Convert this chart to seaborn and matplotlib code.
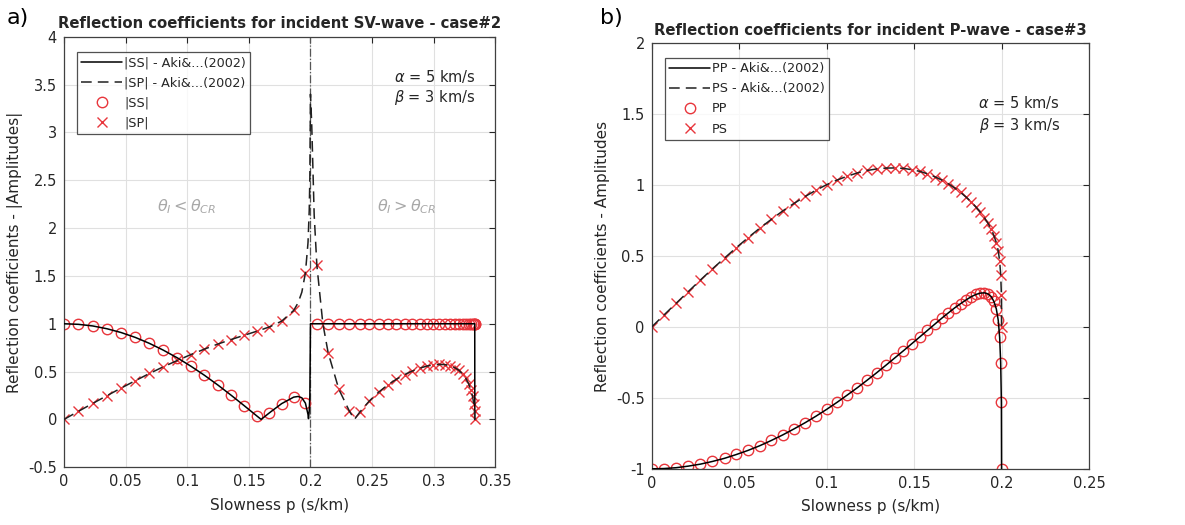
import seaborn as sns
import matplotlib
matplotlib.use("Agg")
import matplotlib.pyplot as plt
import matplotlib.ticker as ticker
import pandas as pd

# ---- panel a) incident SV-wave, slowness p (s/km) at 2 deg steps ----
p_sv = [0.0000, 0.0116, 0.0233, 0.0348, 0.0464, 0.0579, 0.0693, 0.0806, 0.0919, 0.1030,
        0.1140, 0.1249, 0.1356, 0.1461, 0.1565, 0.1667, 0.1766, 0.1864, 0.1959, 0.2052,
        0.2143, 0.2230, 0.2316, 0.2398, 0.2477, 0.2553, 0.2627, 0.2697, 0.2763, 0.2827,
        0.2887, 0.2943, 0.2996, 0.3045, 0.3091, 0.3132, 0.3170, 0.3204, 0.3234, 0.3260,
        0.3283, 0.3301, 0.3315, 0.3325, 0.3331, 0.3333]
ss_sv = [1.000, 0.994, 0.977, 0.948, 0.908, 0.857, 0.795, 0.724, 0.644, 0.556,
         0.461, 0.359, 0.253, 0.145, 0.036, 0.069, 0.165, 0.233, 0.170, 1.000,
         1.000, 1.000, 1.000, 1.000, 1.000, 1.000, 1.000, 1.000, 1.000, 1.000,
         1.000, 1.000, 1.000, 1.000, 1.000, 1.000, 1.000, 1.000, 1.000, 1.000,
         1.000, 1.000, 1.000, 1.000, 1.000, 1.000]
sp_sv = [0.000, 0.084, 0.167, 0.248, 0.328, 0.405, 0.480, 0.550, 0.616, 0.678,
         0.735, 0.788, 0.835, 0.879, 0.922, 0.967, 1.027, 1.139, 1.532, 1.610,
         0.699, 0.316, 0.086, 0.073, 0.192, 0.285, 0.360, 0.420, 0.468, 0.506,
         0.536, 0.557, 0.570, 0.575, 0.573, 0.561, 0.542, 0.514, 0.476, 0.430,
         0.375, 0.312, 0.241, 0.165, 0.083, 0.000]
# extra points of the Aki & Richards curves around the critical slowness
ss_line_p_extra = [0.1600, 0.1900, 0.1930, 0.1980, 0.1984, 0.1990, 0.1995, 0.2000, 0.33335]
ss_line_extra = [0.000, 0.240, 0.226, 0.052, 0.008, 0.092, 0.246, 1.000, 0.000]
sp_line_p_extra = [0.1600, 0.1900, 0.1930, 0.1980, 0.1990, 0.1995, 0.2000, 0.2010, 0.2030, 0.2100, 0.2357]
sp_line_extra = [0.937, 1.220, 1.330, 1.847, 2.186, 2.528, 3.400, 3.090, 2.140, 1.006, 0.000]
p_critical = 0.2

# ---- panel b) incident P-wave ----
p_p = [0.0000, 0.0070, 0.0140, 0.0209, 0.0278, 0.0347, 0.0416, 0.0484, 0.0551, 0.0618,
       0.0684, 0.0749, 0.0813, 0.0877, 0.0939, 0.1000, 0.1060, 0.1118, 0.1176, 0.1231,
       0.1286, 0.1338, 0.1389, 0.1439, 0.1486, 0.1532, 0.1576, 0.1618, 0.1658, 0.1696,
       0.1732, 0.1766, 0.1798, 0.1827, 0.1854, 0.1879, 0.1902, 0.1923, 0.1941, 0.1956,
       0.1970, 0.1981, 0.1989, 0.1995, 0.1999, 0.2000]
pp = [-1.000, -0.998, -0.992, -0.981, -0.967, -0.948, -0.926, -0.899, -0.870, -0.837,
      -0.800, -0.761, -0.719, -0.675, -0.629, -0.581, -0.531, -0.480, -0.428, -0.376,
      -0.323, -0.271, -0.219, -0.168, -0.119, -0.071, -0.025, 0.019, 0.061, 0.099,
      0.134, 0.164, 0.191, 0.213, 0.229, 0.238, 0.240, 0.232, 0.213, 0.180,
      0.127, 0.047, -0.072, -0.252, -0.532, -1.000]
ps = [0.000, 0.084, 0.167, 0.249, 0.330, 0.409, 0.485, 0.559, 0.629, 0.696,
      0.758, 0.817, 0.870, 0.919, 0.963, 1.002, 1.035, 1.062, 1.085, 1.102,
      1.113, 1.119, 1.120, 1.117, 1.108, 1.096, 1.079, 1.058, 1.035, 1.008,
      0.979, 0.947, 0.914, 0.880, 0.844, 0.807, 0.769, 0.729, 0.688, 0.644,
      0.594, 0.536, 0.465, 0.369, 0.228, 0.000]

RED = '#e8363c'
TXT = '#262626'

sns.set_style('white')
plt.rcParams['font.family'] = ['DejaVu Sans']
plt.rcParams['axes.unicode_minus'] = False


def curve(px, py, px_extra, py_extra):
    df = pd.DataFrame({'p': list(px) + list(px_extra), 'r': list(py) + list(py_extra)})
    return df.sort_values('p', kind='stable')


def style_axis(ax, xlim, ylim, xstep, ystep, title, ylabel, title_size):
    ax.set_xlim(xlim)
    ax.set_ylim(ylim)
    ax.xaxis.set_major_locator(ticker.MultipleLocator(xstep))
    ax.yaxis.set_major_locator(ticker.MultipleLocator(ystep))
    fmt = ticker.FuncFormatter(lambda v, pos: '%g' % round(v, 4))
    ax.xaxis.set_major_formatter(fmt)
    ax.yaxis.set_major_formatter(fmt)
    ax.grid(True, color='#e0e0e0', linewidth = 0.8)
    ax.set_axisbelow(True)
    ax.tick_params(axis = 'both', direction = 'in', top = True, right = True,
                   length = 4, width = 0.8, labelsize = 10.5, colors = TXT, pad = 5)
    for sp in ax.spines.values():
        sp.set_color('#404040')
        sp.set_linewidth(0.9)
    ax.set_title(title, fontsize = title_size, fontweight = 'bold', color = TXT, pad = 6)
    ax.set_xlabel('Slowness p (s/km)', fontsize = 11, color = TXT, labelpad = 6)
    ax.set_ylabel(ylabel, fontsize = 11, color = TXT, labelpad = 4)


def markers(ax, x, y, mk, label):
    if mk == 'o':
        sns.lineplot(x = x, y = y, ax = ax, sort = False, estimator = None, linestyle = 'none',
                     marker = 'o', markersize = 7.5, markerfacecolor = 'none',
                     markeredgecolor = RED, markeredgewidth = 1.0, color = RED,
                     label = label, zorder = 2)
    else:
        sns.lineplot(x = x, y = y, ax = ax, sort = False, estimator = None, linestyle = 'none',
                     marker = 'x', markersize = 6.5, markeredgecolor = RED,
                     markeredgewidth = 1.0, color = RED, label = label, zorder = 2)


def legend(ax, x0):
    leg = ax.legend(loc = 'upper left', bbox_to_anchor = (x0, 0.965), fontsize = 9.2,
                    frameon = True, fancybox = False, edgecolor = '#262626', borderpad = 0.35,
                    labelspacing = 0.55, handlelength = 3.2, handletextpad = 0.15,
                    borderaxespad = 0)
    leg.get_frame().set_linewidth(0.9)


fig = plt.figure(figsize = (11.85, 5.25), dpi = 100)
ax1 = fig.add_axes([0.054, 0.110, 0.364, 0.820])
ax2 = fig.add_axes([0.550, 0.107, 0.369, 0.811])

# ---------------- a) ----------------
ss_line = curve(p_sv, ss_sv, ss_line_p_extra, ss_line_extra)
sp_line = curve(p_sv, sp_sv, sp_line_p_extra, sp_line_extra)
sns.lineplot(data = ss_line, x = 'p', y = 'r', ax = ax1, sort = False, estimator = None,
             color = 'black', linewidth = 1.1, label = '|SS| - Aki&...(2002)', zorder = 3)
sns.lineplot(data = sp_line, x = 'p', y = 'r', ax = ax1, sort = False, estimator = None,
             color = '#202020', linewidth = 1.1, linestyle = (0, (7, 4)),
             label = '|SP| - Aki&...(2002)', zorder = 3)
markers(ax1, p_sv, ss_sv, 'o', '|SS|')
markers(ax1, p_sv, sp_sv, 'x', '|SP|')
ax1.axvline(p_critical, color = '#555555', linestyle = '-.', linewidth = 0.9, zorder = 1)
style_axis(ax1, (0, 0.35), (-0.5, 4), 0.05, 0.5,
           'Reflection coefficients for incident SV-wave - case#2',
           'Reflection coefficients - |Amplitudes|', 10.7)
ax1.text(0.1, 2.22, r'$\theta_I < \theta_{CR}$', color = '#a8a8a8', fontsize = 11.5,
         ha = 'center', va = 'center')
ax1.text(0.278, 2.22, r'$\theta_I > \theta_{CR}$', color = '#a8a8a8', fontsize = 11.5,
         ha = 'center', va = 'center')
ax1.text(0.334, 3.58, r'$\alpha$ = 5 km/s', color = TXT, fontsize = 10.5, ha = 'right', va = 'center')
ax1.text(0.334, 3.36, r'$\beta$ = 3 km/s', color = TXT, fontsize = 10.5, ha = 'right', va = 'center')
legend(ax1, 0.03)

# ---------------- b) ----------------
sns.lineplot(x = p_p, y = pp, ax = ax2, sort = False, estimator = None,
             color = 'black', linewidth = 1.1, label = 'PP - Aki&...(2002)', zorder = 3)
sns.lineplot(x = p_p, y = ps, ax = ax2, sort = False, estimator = None,
             color = '#202020', linewidth = 1.1, linestyle = (0, (7, 4)),
             label = 'PS - Aki&...(2002)', zorder = 3)
markers(ax2, p_p, pp, 'o', 'PP')
markers(ax2, p_p, ps, 'x', 'PS')
style_axis(ax2, (0, 0.25), (-1, 2), 0.05, 0.5,
           'Reflection coefficients for incident P-wave - case#3',
           'Reflection coefficients - Amplitudes', 10.75)
ax2.text(0.2335, 1.58, r'$\alpha$ = 5 km/s', color = TXT, fontsize = 10.5, ha = 'right', va = 'center')
ax2.text(0.2335, 1.42, r'$\beta$ = 3 km/s', color = TXT, fontsize = 10.5, ha = 'right', va = 'center')
legend(ax2, 0.03)

fig.text(0.006, 0.965, 'a)', fontsize = 16, color = 'black', va = 'center')
fig.text(0.506, 0.965, 'b)', fontsize = 16, color = 'black', va = 'center')

fig.savefig('out.png', dpi = 100)
plt.close(fig)
